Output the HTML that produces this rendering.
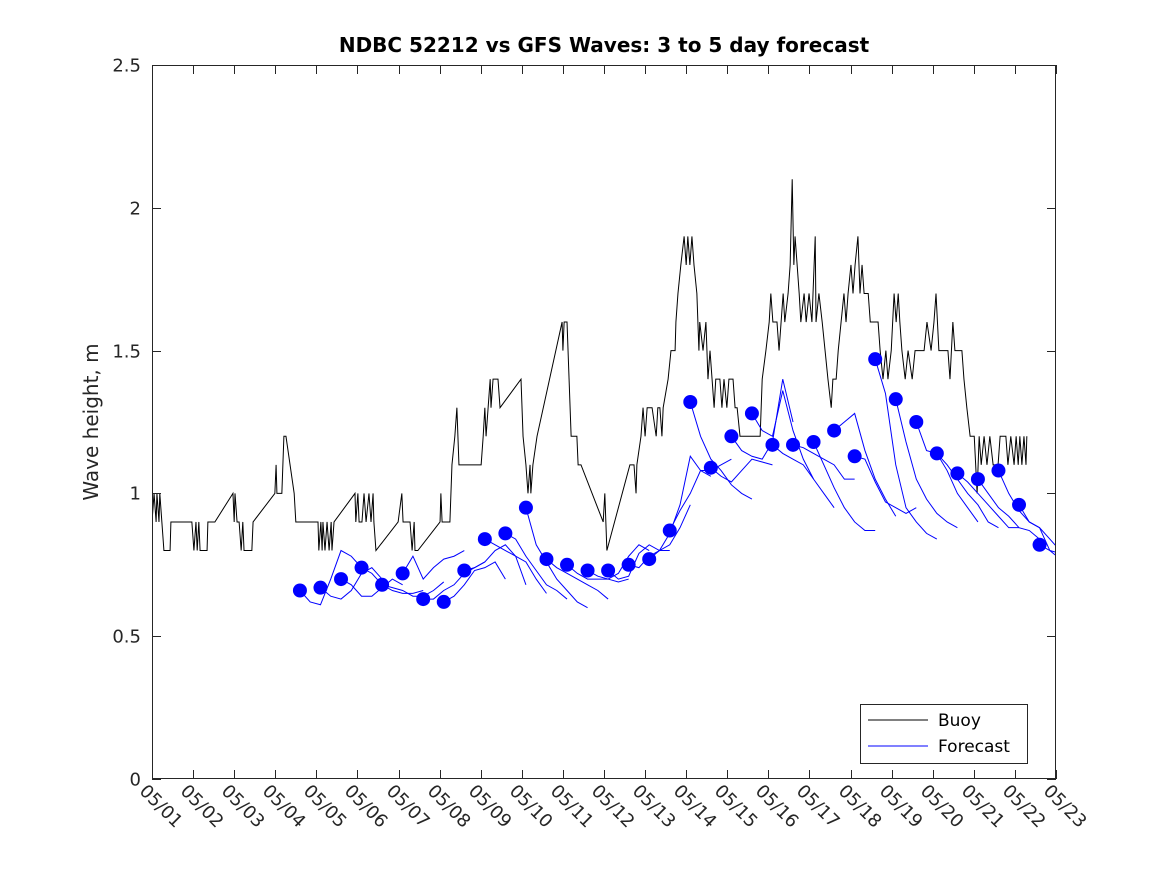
<!DOCTYPE html>
<html><head><meta charset="utf-8"><style>
html,body{margin:0;padding:0;background:#fff;}
svg{display:block;font-family:"DejaVu Sans","Liberation Sans",sans-serif;}
</style></head><body>
<svg id="chart" width="1167" height="875" viewBox="0 0 1167 875" xmlns="http://www.w3.org/2000/svg">
<rect x="0" y="0" width="1167" height="875" fill="#fff"/>
<text x="604" y="52" text-anchor="middle" font-size="20" font-weight="bold" fill="#000">NDBC 52212 vs GFS Waves: 3 to 5 day forecast</text>
<text transform="translate(98,422) rotate(-90)" text-anchor="middle" font-size="20" fill="#262626">Wave height, m</text>
<defs><clipPath id="plotclip"><rect x="152" y="65" width="904" height="714"/></clipPath></defs>
<g id="marks" clip-path="url(#plotclip)"></g>
<g id="axes"></g>
<g>
<rect x="860.5" y="704.5" width="167" height="59" fill="#fff" stroke="#262626" stroke-width="1"/>
<line x1="868" y1="720" x2="928" y2="720" stroke="#000" stroke-width="1"/>
<text x="938" y="726" font-size="17" fill="#000">Buoy</text>
<line x1="868" y1="746" x2="928" y2="746" stroke="#0000ff" stroke-width="1"/>
<text x="938" y="752" font-size="17" fill="#000">Forecast</text>
</g>
</svg>
<script>
const xTickLabels = ["05/01","05/02","05/03","05/04","05/05","05/06","05/07","05/08","05/09","05/10","05/11","05/12","05/13","05/14","05/15","05/16","05/17","05/18","05/19","05/20","05/21","05/22","05/23"];
const yTickValues = [0,0.5,1,1.5,2,2.5];
const yTickLabels = ["0","0.5","1","1.5","2","2.5"];
const buoyDays = [0,0.05,0.10,0.12,0.17,0.19,0.24,0.29,0.44,0.46,0.97,1.02,1.07,1.10,1.14,1.17,1.34,1.36,1.53,1.97,2.00,2.02,2.07,2.12,2.17,2.21,2.24,2.43,2.46,2.99,3.02,3.04,3.16,3.21,3.26,3.46,3.50,4.04,4.06,4.11,4.14,4.16,4.21,4.26,4.31,4.36,4.38,4.43,4.94,4.96,5.01,5.04,5.11,5.16,5.21,5.28,5.33,5.38,5.40,5.45,5.99,6.08,6.11,6.28,6.33,6.38,6.40,6.47,7.01,7.03,7.06,7.25,7.30,7.37,7.42,7.47,8.01,8.06,8.10,8.13,8.18,8.23,8.25,8.30,8.42,8.47,8.98,9.03,9.10,9.15,9.20,9.22,9.27,9.37,9.98,10.00,10.03,10.10,10.15,10.20,10.34,10.37,10.44,10.98,11.02,11.07,11.63,11.73,11.78,11.80,11.90,11.95,12.00,12.05,12.17,12.27,12.31,12.36,12.41,12.44,12.56,12.63,12.73,12.75,12.80,12.87,12.95,13.00,13.04,13.09,13.14,13.19,13.26,13.31,13.33,13.41,13.48,13.53,13.58,13.63,13.68,13.72,13.82,13.87,13.92,13.99,14.04,14.14,14.19,14.24,14.31,14.80,14.85,14.94,15.02,15.06,15.11,15.21,15.26,15.31,15.36,15.40,15.48,15.53,15.58,15.62,15.65,15.70,15.75,15.79,15.87,15.92,15.99,16.06,16.14,16.16,16.23,16.31,16.38,16.45,16.53,16.57,16.65,16.70,16.77,16.84,16.89,16.94,17.01,17.06,17.11,17.18,17.23,17.28,17.33,17.43,17.48,17.67,17.72,17.79,17.86,17.91,17.99,18.06,18.11,18.16,18.20,18.25,18.33,18.40,18.50,18.57,18.79,18.86,18.96,19.03,19.08,19.15,19.37,19.42,19.49,19.54,19.71,19.76,19.83,19.91,20.01,20.08,20.13,20.18,20.25,20.32,20.39,20.47,20.59,20.64,20.78,20.83,20.90,20.98,21.03,21.08,21.12,21.17,21.22,21.27,21.29];
const buoyValues = [0.9,1.0,0.9,1.0,0.9,1.0,0.9,0.8,0.8,0.9,0.9,0.8,0.9,0.8,0.9,0.8,0.8,0.9,0.9,1.0,0.9,1.0,0.9,0.9,0.8,0.9,0.8,0.8,0.9,1.0,1.1,1.0,1.0,1.2,1.2,1.0,0.9,0.9,0.8,0.9,0.8,0.9,0.8,0.9,0.8,0.9,0.8,0.9,1.0,0.9,1.0,0.9,0.9,1.0,0.9,1.0,0.9,1.0,0.9,0.8,0.9,1.0,0.9,0.9,0.8,0.9,0.8,0.8,0.9,1.0,0.9,0.9,1.1,1.2,1.3,1.1,1.1,1.2,1.3,1.2,1.3,1.4,1.3,1.4,1.4,1.3,1.4,1.2,1.1,1.0,1.1,1.0,1.1,1.2,1.6,1.5,1.6,1.6,1.4,1.2,1.2,1.1,1.1,0.9,1.0,0.8,1.1,1.1,1.0,1.1,1.2,1.3,1.2,1.3,1.3,1.2,1.3,1.3,1.2,1.3,1.4,1.5,1.5,1.6,1.7,1.8,1.9,1.8,1.9,1.8,1.9,1.8,1.7,1.5,1.6,1.5,1.6,1.4,1.5,1.4,1.3,1.4,1.4,1.3,1.4,1.3,1.4,1.4,1.3,1.3,1.2,1.2,1.4,1.5,1.6,1.7,1.6,1.6,1.5,1.6,1.7,1.6,1.7,1.8,2.1,1.8,1.9,1.8,1.7,1.6,1.7,1.6,1.7,1.6,1.9,1.6,1.7,1.6,1.5,1.4,1.3,1.4,1.4,1.5,1.6,1.7,1.6,1.7,1.8,1.7,1.8,1.9,1.7,1.8,1.7,1.7,1.6,1.6,1.5,1.4,1.5,1.4,1.5,1.7,1.6,1.7,1.6,1.5,1.4,1.5,1.4,1.5,1.5,1.6,1.5,1.6,1.7,1.5,1.5,1.4,1.6,1.5,1.5,1.4,1.3,1.2,1.2,1.0,1.2,1.1,1.2,1.1,1.2,1.1,1.1,1.2,1.2,1.1,1.2,1.1,1.2,1.1,1.2,1.1,1.2,1.1,1.2];
const forecastStartDay = 3.6;
const forecastRunStep = 0.5;
const forecastHourStep = 0.25;
const dotValues = [0.66,0.67,0.70,0.74,0.68,0.72,0.63,0.62,0.73,0.84,0.86,0.95,0.77,0.75,0.73,0.73,0.75,0.77,0.87,1.32,1.09,1.20,1.28,1.17,1.17,1.18,1.22,1.13,1.47,1.33,1.25,1.14,1.07,1.05,1.08,0.96,0.82];
const forecastRuns = [
[0.66,0.62,0.61,0.70,0.80,0.78,0.74],
[0.67,0.64,0.63,0.66,0.72,0.74,0.70],
[0.70,0.68,0.64,0.64,0.67,0.70,0.68],
[0.74,0.72,0.68,0.66,0.65,0.65,0.66],
[0.68,0.67,0.66,0.64,0.64,0.66,0.69],
[0.72,0.78,0.70,0.74,0.77,0.78,0.80],
[0.63,0.63,0.66,0.68,0.72,0.74,0.76],
[0.62,0.64,0.68,0.73,0.74,0.76,0.70],
[0.73,0.74,0.76,0.80,0.82,0.78,0.68],
[0.84,0.82,0.80,0.78,0.76,0.70,0.65],
[0.86,0.84,0.78,0.73,0.68,0.66,0.63],
[0.95,0.82,0.76,0.70,0.66,0.62,0.60],
[0.77,0.74,0.72,0.70,0.68,0.66,0.63],
[0.75,0.72,0.70,0.70,0.70,0.69,0.70],
[0.73,0.71,0.70,0.72,0.78,0.82,0.80],
[0.73,0.70,0.71,0.79,0.82,0.80,0.80],
[0.75,0.74,0.78,0.80,0.82,0.88,0.96],
[0.77,0.80,0.86,0.96,1.13,1.08,1.06],
[0.87,0.94,1.00,1.08,1.08,1.10,1.12],
[1.32,1.20,1.12,1.08,1.03,1.00,0.98],
[1.09,1.06,1.04,1.08,1.12,1.11,1.10],
[1.20,1.15,1.13,1.12,1.18,1.40,1.25],
[1.28,1.22,1.20,1.36,1.22,1.12,1.05],
[1.17,1.14,1.12,1.10,1.05,1.00,0.95],
[1.17,1.16,1.14,1.12,1.10,1.05,1.05],
[1.18,1.10,1.02,0.95,0.90,0.87,0.87],
[1.22,1.25,1.28,1.15,1.05,0.98,0.92],
[1.13,1.12,1.04,0.97,0.95,0.93,0.95],
[1.47,1.35,1.10,0.95,0.90,0.86,0.84],
[1.33,1.18,1.05,0.98,0.93,0.90,0.88],
[1.25,1.15,1.14,1.08,1.00,0.95,0.90],
[1.14,1.10,1.05,1.00,0.96,0.90,0.88],
[1.07,1.04,1.00,0.96,0.92,0.88,0.88],
[1.05,1.00,0.95,0.92,0.88,0.87,0.84],
[1.08,1.00,0.94,0.90,0.88,0.80,0.77],
[0.96,0.90,0.88,0.84,0.80,0.76,0.73],
[0.82,0.80,0.79,0.78,0.74,0.73,0.73]
];
(function(){
const NS="http://www.w3.org/2000/svg";
const L=152,R=1056,T=65,B=779;
const xS=d=>L+(R-L)*d/22;
const yS=v=>B-(B-T)*v/2.5;
const marks=document.getElementById('marks');
const axes=document.getElementById('axes');
function mk(tag,attrs,parent){const e=document.createElementNS(NS,tag);for(const k in attrs)e.setAttribute(k,attrs[k]);parent.appendChild(e);return e;}
let d="";
buoyDays.forEach((t,i)=>{d+=(i?"L":"M")+xS(t).toFixed(2)+","+yS(buoyValues[i]).toFixed(2);});
const bl=mk('path',{d:d,fill:"none",stroke:"#000","stroke-width":"1"},marks);


forecastRuns.forEach((run,k)=>{
  const t0=forecastStartDay+k*forecastRunStep;
  let p="";
  run.forEach((v,j)=>{p+=(j?"L":"M")+xS(t0+j*forecastHourStep).toFixed(2)+","+yS(v).toFixed(2);});
  const fl=mk('path',{d:p,fill:"none",stroke:"#0000ff","stroke-width":"1"},marks);
  
  
});
dotValues.forEach((v,k)=>{
  const c=mk('circle',{cx:xS(forecastStartDay+k*forecastRunStep).toFixed(2),cy:yS(v).toFixed(2),r:"7",fill:"#0000ff"},marks);
  
  
});
const box=mk('rect',{x:L+0.5,y:T+0.5,width:R-L-1,height:B-T-1,fill:"none",stroke:"#262626","stroke-width":"1"},axes);


yTickValues.forEach((v,i)=>{
  const y=Math.round(yS(v))+0.5;
  mk('line',{x1:L,y1:y,x2:L+9,y2:y,stroke:"#262626"},axes);
  mk('line',{x1:R-9,y1:y,x2:R,y2:y,stroke:"#262626"},axes);
  const t=mk('text',{x:141,y:y+6,"text-anchor":"end","font-size":"18",fill:"#262626"},axes);
  t.textContent=yTickLabels[i];
  
  
});
xTickLabels.forEach((lab,i)=>{
  const x=Math.round(xS(i))+0.5;
  mk('line',{x1:x,y1:B,x2:x,y2:B-9,stroke:"#262626"},axes);
  mk('line',{x1:x,y1:T,x2:x,y2:T+9,stroke:"#262626"},axes);
  const t=mk('text',{transform:"translate("+(x-14)+",792) rotate(45)","font-size":"18",fill:"#262626"},axes);
  t.textContent=lab;
  
  
});
})();
</script>
</body></html>
